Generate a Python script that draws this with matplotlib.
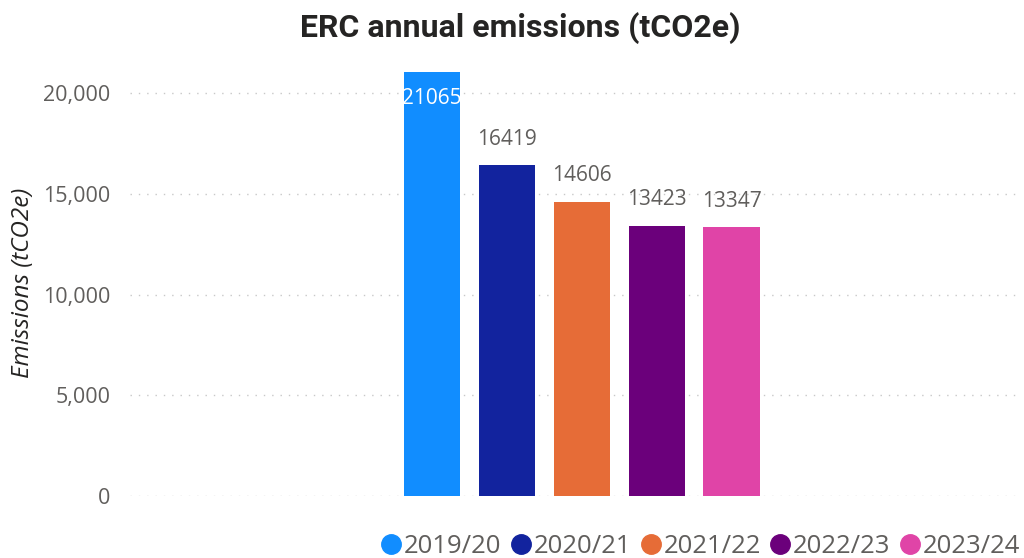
import matplotlib.pyplot as plt
from matplotlib.lines import Line2D

# data
years = ['2019/20', '2020/21', '2021/22', '2022/23', '2023/24']
emissions = [21065, 16419, 14606, 13423, 13347]
colours = ['#118DFF', '#12239E', '#E66C37', '#6B007B', '#E044A7']
yticks = [0, 5000, 10000, 15000, 20000]

grey = '#605E5C'
plt.rcParams['font.family'] = ['Open Sans', 'DejaVu Sans']

fig = plt.figure(figsize=(10.24, 5.58), dpi=100)
ax = fig.add_axes([130/1024, 62/558, 888/1024, 435.2/558])

x = list(range(len(years)))
bars = ax.bar(x, emissions, width=0.75, color=colours, zorder=3)

ax.set_ylim(0, 21600)
ax.set_xlim(-4.04, 7.83)
ax.set_yticks(yticks)
ax.set_yticklabels(['{:,}'.format(v) for v in yticks], color=grey, fontsize=15.5)
ax.set_xticks([])
ax.tick_params(axis='y', length=0, pad=14)
for s in ax.spines.values():
    s.set_visible(False)
ax.grid(axis='y', linestyle=(0, (1, 5)), color='#C8C8C8', linewidth=1, zorder=0)

# etykiety wartosci
for i, (b, v) in enumerate(zip(bars, emissions)):
    if i == 0:
        ax.text(b.get_x() + b.get_width()/2, 19750, str(v), ha='center', va='center',
                color='white', fontsize=15, zorder=4)
    else:
        ax.annotate(str(v), (b.get_x() + b.get_width()/2, v), xytext=(0, 11),
                    textcoords='offset points', ha='center', va='bottom',
                    color=grey, fontsize=15)

ax.set_ylabel('Emissions (tCO2e)', fontstyle='italic', fontsize=17.5, color='#252423')
ax.yaxis.set_label_coords(-0.107, 0.49)

fig.suptitle('ERC annual emissions (tCO2e)', x=0.508, y=0.978, fontsize=23, fontweight='bold',
             color='#252423', family=['Roboto', 'DejaVu Sans'], va='top')

handles = [Line2D([], [], marker='o', linestyle='', markersize=14, color=c) for c in colours]
fig.legend(handles, years, loc='lower right', bbox_to_anchor=(1.019, -0.043), ncol=5,
           frameon=False, fontsize=18.5, labelcolor=grey, handletextpad=0.1,
           columnspacing=0.36, handlelength=0.8)

fig.savefig('out.png', dpi=100)
